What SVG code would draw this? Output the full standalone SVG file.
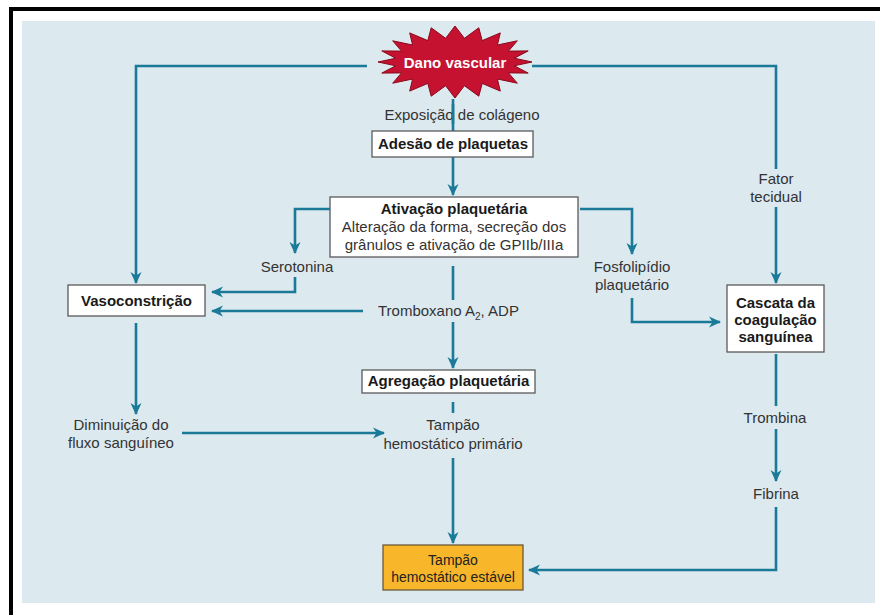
<svg xmlns="http://www.w3.org/2000/svg" width="880" height="615" viewBox="0 0 880 615">
<style>
text{font-family:"Liberation Sans",Arial,sans-serif;font-size:15px;fill:#333;text-anchor:middle}
.b{font-weight:bold;fill:#1a1a1a}
.box{fill:#fff;stroke:#5a5a5a;stroke-width:1.3}
.ln{fill:none;stroke:#1a7a98;stroke-width:2.6}
.arr{marker-end:url(#ah)}
</style>
<defs>
<marker id="ah" viewBox="0 0 12 12" refX="11" refY="6" markerWidth="12" markerHeight="12" markerUnits="userSpaceOnUse" orient="auto">
<path d="M0,0.5 L12,6 L0,11.5 L3.5,6 Z" fill="#1a7a98"/>
</marker>
</defs>
<rect x="0" y="0" width="880" height="615" fill="#fff"/>
<rect x="9" y="7" width="871" height="4" fill="#000"/>
<rect x="9" y="7" width="4" height="608" fill="#000"/>
<rect x="22" y="21" width="853" height="582" fill="#dce9ef"/>

<g id="connectors">
<path class="ln arr" d="M367,66 H136 V283"/>
<path class="ln" d="M532,66 H776 V169"/>
<path class="ln arr" d="M776,207 V283"/>
<path class="ln" d="M453,99 V131"/>
<path class="ln arr" d="M453,157 V195"/>
<path class="ln arr" d="M330,209 H295 V253"/>
<path class="ln arr" d="M295,277 V292 H212"/>
<path class="ln" d="M453,266 V300"/>
<path class="ln arr" d="M363,311 H212"/>
<path class="ln arr" d="M453,322 V368"/>
<path class="ln" d="M453,402 V413"/>
<path class="ln arr" d="M453,458 V543"/>
<path class="ln arr" d="M182,433 H384"/>
<path class="ln arr" d="M136,323 V414"/>
<path class="ln arr" d="M580,209 H632 V254"/>
<path class="ln arr" d="M632,298 V322 H720"/>
<path class="ln" d="M776,354 V406"/>
<path class="ln arr" d="M776,429 V481"/>
<path class="ln arr" d="M776,507 V570 H529"/>
</g>

<g id="dano">
<polygon fill="#c41230" stroke="#8a0a1a" stroke-width="1" points="532,62 514.3,65.8 528.2,73.1 508.5,72.9 517.3,83.2 497.4,79 500.3,91.1 482.2,83.4 478.8,96.2 464.4,85.7 455,98 445.6,85.7 431.2,96.2 427.8,83.4 409.7,91.1 412.6,79 392.7,83.2 401.5,72.9 381.8,73.1 395.7,65.8 378,62 395.7,58.2 381.8,50.9 401.5,51.1 392.7,40.8 412.6,45 409.7,32.9 427.8,40.6 431.2,27.8 445.6,38.3 455,26 464.4,38.3 478.8,27.8 482.2,40.6 500.3,32.9 497.4,45 517.3,40.8 508.5,51.1 528.2,50.9 514.3,58.2"/>
<text class="b" x="455" y="68" style="fill:#fff">Dano vascular</text>
</g>

<g id="exposicao"><text x="462" y="120">Exposição de colágeno</text></g>
<path class="ln" d="M453,104 V124"/>

<g id="adesao">
<rect class="box" x="372" y="131" width="161" height="26"/>
<text class="b" x="453" y="149">Adesão de plaquetas</text>
</g>

<g id="ativacao">
<rect class="box" x="330" y="197" width="248" height="60"/>
<text class="b" x="454" y="214">Ativação plaquetária</text>
<text x="454" y="232">Alteração da forma, secreção dos</text>
<text x="454" y="250">grânulos e ativação de GPIIb/IIIa</text>
</g>

<g id="serotonina"><text x="297" y="272">Serotonina</text></g>

<g id="vasoconstricao">
<rect class="box" x="68" y="285" width="137" height="31"/>
<text class="b" x="136.5" y="306">Vasoconstrição</text>
</g>

<g id="tromboxano"><text x="378" y="316" style="text-anchor:start">Tromboxano A<tspan font-size="10" dy="4">2</tspan><tspan dy="-4">, ADP</tspan></text></g>

<g id="fosfolipidio">
<text x="632" y="272">Fosfolipídio</text>
<text x="632" y="290">plaquetário</text>
</g>

<g id="fator">
<text x="776" y="184">Fator</text>
<text x="776" y="202">tecidual</text>
</g>

<g id="cascata">
<rect class="box" x="727" y="285" width="97" height="67"/>
<text class="b" x="775.5" y="308">Cascata da</text>
<text class="b" x="775.5" y="325">coagulação</text>
<text class="b" x="775.5" y="342">sanguínea</text>
</g>

<g id="agregacao">
<rect class="box" x="362" y="370" width="173" height="23"/>
<text class="b" x="448.5" y="386">Agregação plaquetária</text>
</g>

<g id="diminuicao">
<text x="121" y="430">Diminuição do</text>
<text x="121" y="448">fluxo sanguíneo</text>
</g>

<g id="tampao-primario">
<text x="453" y="430">Tampão</text>
<text x="453" y="449">hemostático primário</text>
</g>

<g id="trombina"><text x="775" y="423">Trombina</text></g>
<g id="fibrina"><text x="776" y="499">Fibrina</text></g>

<g id="tampao-estavel">
<rect x="383" y="545" width="140" height="45" fill="#f8b62a" stroke="#6b5a3a" stroke-width="1.3"/>
<text x="453" y="565" style="font-size:14px;fill:#222">Tampão</text>
<text x="453" y="582" style="font-size:14px;fill:#222">hemostático estável</text>
</g>
</svg>
